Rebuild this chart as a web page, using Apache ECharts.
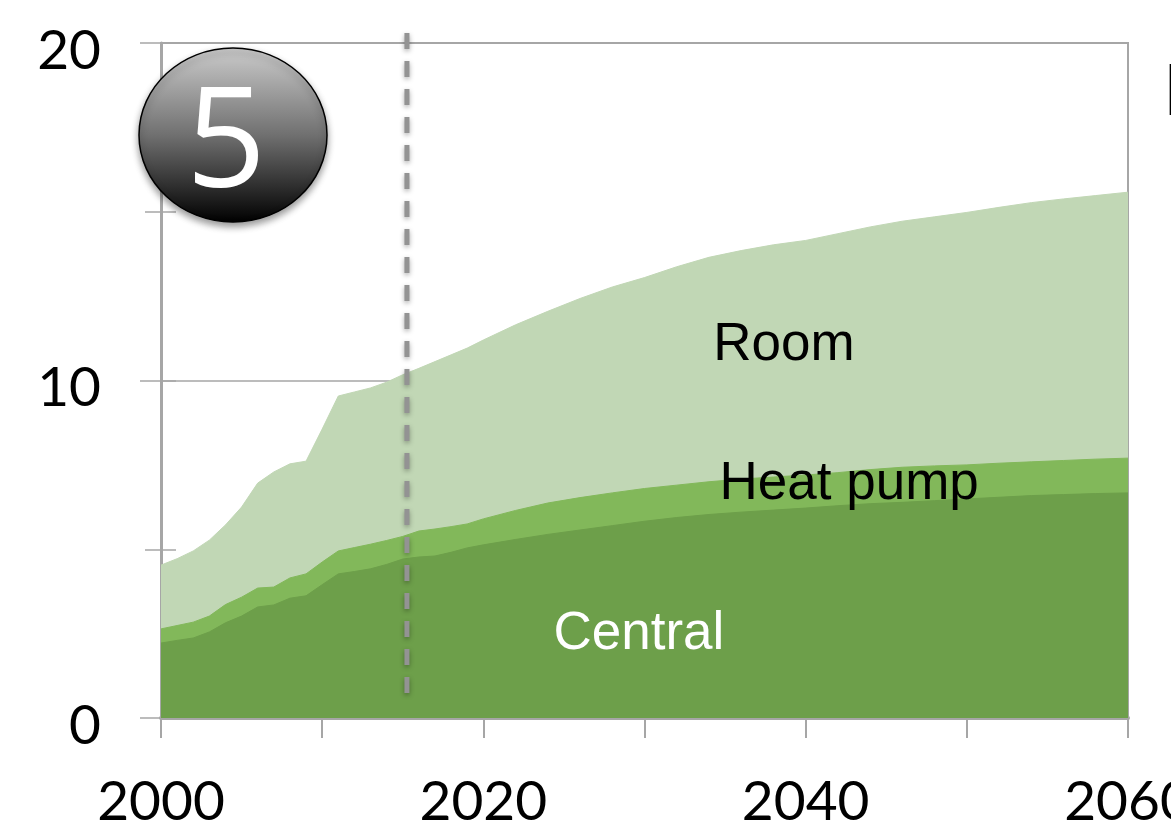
<!DOCTYPE html>
<html>
<head>
<meta charset="utf-8">
<title>Cooling capacity by type</title>
<style>html,body{margin:0;padding:0;background:#fff;overflow:hidden}#chart{width:1171px;height:831px}</style>
<script src="https://cdn.jsdelivr.net/npm/echarts@6/dist/echarts.min.js"></script>
</head>
<body>
<div id="chart"></div>
<script>
// Annual to 2020, two-yearly after that
const years = [2000,2001,2002,2003,2004,2005,2006,2007,2008,2009,2010,2011,2012,2013,2014,2015,2016,2017,2018,2019,2020,
  2022,2024,2026,2028,2030,2032,2034,2036,2038,2040,2042,2044,2046,2048,2050,2052,2054,2056,2058,2060];
const central = [2.22,2.30,2.37,2.55,2.82,3.02,3.29,3.35,3.55,3.62,3.95,4.27,4.34,4.42,4.55,4.71,4.77,4.80,4.91,5.04,5.13,
  5.29,5.44,5.57,5.70,5.83,5.94,6.03,6.10,6.16,6.22,6.29,6.35,6.39,6.44,6.49,6.54,6.59,6.62,6.65,6.67];
const heatPump = [.42,.44,.47,.47,.54,.56,.56,.53,.60,.65,.67,.68,.71,.73,.71,.67,.77,.80,.76,.71,.77,
  .86,.93,.96,.97,.97,.96,.97,.98,.98,.98,.98,1.01,1.04,1.03,1.01,1.01,1.00,1.01,1.02,1.03];
const room = [1.89,1.98,2.11,2.25,2.36,2.67,3.11,3.41,3.38,3.34,3.94,4.59,4.61,4.63,4.69,4.79,4.82,4.96,5.09,5.21,5.30,
  5.50,5.68,5.90,6.10,6.25,6.47,6.65,6.77,6.88,6.95,7.08,7.19,7.29,7.38,7.48,7.58,7.68,7.75,7.81,7.88];

const xLabels = [2000, 2020, 2040, 2060];
const yLabels = [0, 10, 20];
const baseYear = 2015.26;
const baseYearLine = [[baseYear, 20.3], [baseYear, 0.74]];
const areaLabels = [
  { name: 'Room', at: [2038.65, 11.04], color: '#000' },
  { name: 'Heat pump', at: [2042.7, 6.91], color: '#000' },
  { name: 'Central', at: [2029.65, 2.49], color: '#fff' }
];

const axisGrey = '#a6a6a6';
const tickFont = 'Lato';

// Running totals give the top edge of each band; bands are painted back to front
const topOf = (...layers) => years.map((y, i) => [y, layers.reduce((sum, l) => sum + l[i], 0)]);
const band = (name, points, color) => ({
  name, type: 'line', data: points, showSymbol: false, symbol: 'none',
  lineStyle: { color, width: 1 }, areaStyle: { color, opacity: 1, origin: 'start' }, itemStyle: { color }
});

const chart = echarts.init(document.getElementById('chart'), null, { renderer: 'canvas' });
chart.setOption({
  animation: false,
  backgroundColor: '#fff',
  grid: {
    left: 161, right: 43, top: 43, bottom: 113, outerBoundsMode: 'none',
    show: true, borderColor: axisGrey, borderWidth: 2, backgroundColor: 'transparent'
  },
  xAxis: {
    type: 'value', min: 2000, max: 2060, interval: 10,
    axisLine: { show: true, lineStyle: { color: axisGrey, width: 4 } },
    axisTick: { show: true, length: 20, lineStyle: { color: axisGrey, width: 2 } },
    splitLine: { show: false },
    axisLabel: {
      margin: 57, fontFamily: tickFont, fontSize: 55, color: '#000',
      showMinLabel: true, showMaxLabel: true, hideOverlap: false,
      formatter: v => xLabels.includes(v) ? String(v) : ''
    }
  },
  yAxis: [
    {
      type: 'value', min: 0, max: 20, interval: 10,
      axisLine: { show: true, lineStyle: { color: axisGrey, width: 3 } },
      axisTick: { show: true, length: 21, lineStyle: { color: axisGrey, width: 1.5 } },
      minorTick: { show: true, splitNumber: 2, length: 16, lineStyle: { color: axisGrey, width: 1.5 } },
      splitLine: { show: true, lineStyle: { color: axisGrey, width: 1.5 } },
      axisLabel: {
        margin: 60, fontFamily: tickFont, fontSize: 55, color: '#000',
        verticalAlign: 'top', lineHeight: 16,
        formatter: v => yLabels.includes(v) ? String(v) : ''
      }
    },
    {
      type: 'value', min: 0, max: 20, interval: 5, position: 'left',
      axisLine: { show: false },
      axisTick: { show: true, inside: true, length: 15, lineStyle: { color: axisGrey, width: 1.5 } },
      splitLine: { show: false },
      axisLabel: { show: false }
    }
  ],
  series: [
    band('Room', topOf(central, heatPump, room), '#c1d7b5'),
    band('Heat pump', topOf(central, heatPump), '#82b85a'),
    band('Central', topOf(central), '#6d9f4a'),
    {
      name: 'Base year', type: 'line', data: baseYearLine, clip: false, symbol: 'none', z: 5,
      lineStyle: {
        color: '#939393', width: 5, type: [16, 12],
        shadowColor: 'rgba(0,0,0,0.35)', shadowBlur: 5, shadowOffsetY: 2
      }
    },
    {
      name: 'Labels', type: 'scatter', symbolSize: 0, z: 6, silent: true,
      itemStyle: { opacity: 1 },
      data: areaLabels.map(d => ({
        value: d.at,
        label: {
          show: true, position: 'inside', align: 'center', verticalAlign: 'middle',
          formatter: d.name, color: d.color, fontFamily: 'Liberation Sans', fontSize: 53
        }
      }))
    }
  ],
  graphic: [
    {
      type: 'ellipse', z: 10,
      shape: { cx: 233, cy: 135, rx: 94, ry: 87 },
      style: {
        fill: new echarts.graphic.LinearGradient(0, 0, 0, 1, [
          { offset: 0, color: '#cccccc' },
          { offset: 0.5, color: '#707070' },
          { offset: 1, color: '#000000' }
        ]),
        stroke: '#000', lineWidth: 1.5,
        shadowColor: 'rgba(0,0,0,0.4)', shadowBlur: 7, shadowOffsetY: 4
      }
    },
    {
      type: 'text', z: 11, x: 226, y: 147,
      style: { text: '5', fill: '#fff', font: '400 140px "Open Sans"', align: 'center', verticalAlign: 'middle' }
    },
    {
      type: 'text', z: 11, x: 1163.5, y: 94,
      style: { text: 'L', fill: '#000', font: '75px "Liberation Sans"', align: 'left', verticalAlign: 'middle' }
    }
  ]
});
</script>
</body>
</html>
